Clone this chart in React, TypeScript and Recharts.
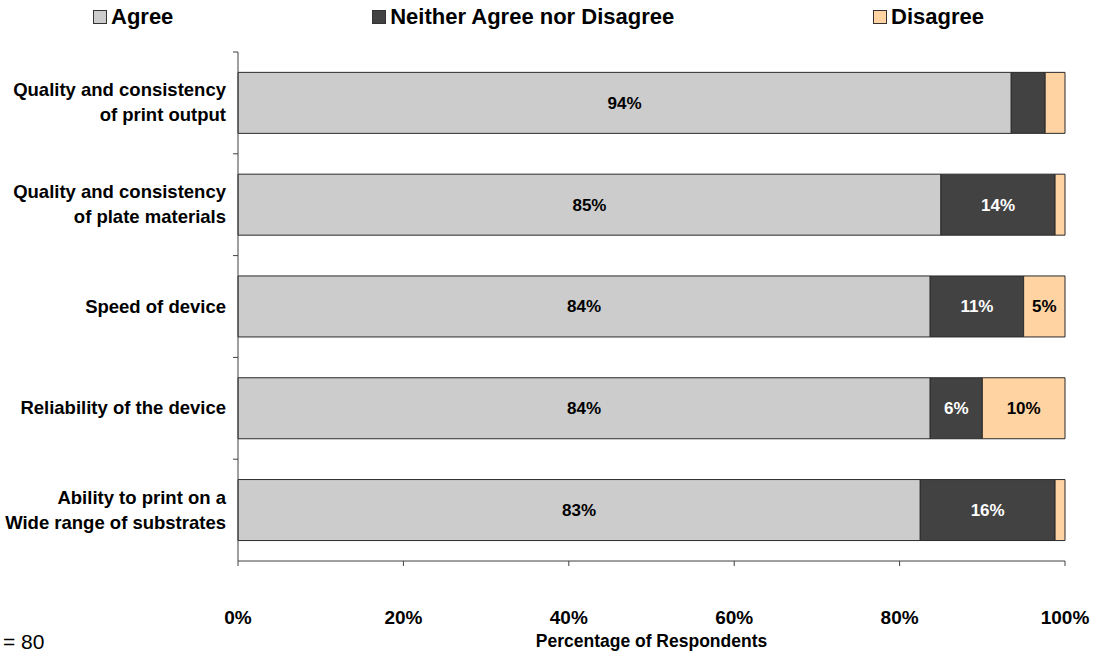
import React from 'react';
import { BarChart, Bar, XAxis, YAxis, LabelList } from 'recharts';

const categories = [
  'Quality and consistency\nof print output',
  'Quality and consistency\nof plate materials',
  'Speed of device',
  'Reliability of the device',
  'Ability to print on a\nWide range of substrates',
];
const agree = [93.5, 85.0, 83.7, 83.7, 82.5];
const neither = [4.1, 13.8, 11.3, 6.3, 16.3];
const disagree = [2.4, 1.2, 5.0, 10.0, 1.2];
const xTicks = [0, 20, 40, 60, 80, 100];

const series = [
  { key: 'agree', name: 'Agree', color: '#CCCCCC', text: '#000000' },
  { key: 'neither', name: 'Neither Agree nor Disagree', color: '#424242', text: '#FFFFFF' },
  { key: 'disagree', name: 'Disagree', color: '#FFD3A2', text: '#000000' },
];

const data = categories.map((name, i) => ({
  name,
  agree: agree[i],
  neither: neither[i],
  disagree: disagree[i],
}));

const FONT = '"Liberation Sans", Arial, Helvetica, sans-serif';
const WIDTH = 1099;
const HEIGHT = 654;
const TOP = 52;
const XAXIS_H = 93;
const YAXIS_W = 238;
const BAND = (HEIGHT - TOP - XAXIS_H) / categories.length;

function CategoryTick(props: any) {
  const { x, y, payload } = props;
  const lines = String(payload.value).split('\n');
  const lh = 25;
  const axisX = x + 12;
  return (
    <g>
      <line x1={axisX - 5} x2={axisX} y1={y - BAND / 2} y2={y - BAND / 2} stroke="#404040" />
      <text
        x={x}
        y={y - ((lines.length - 1) * lh) / 2 - 1}
        textAnchor="end"
        dominantBaseline="central"
        fontFamily={FONT}
        fontWeight="bold"
        fontSize={18.5}
        fill="#000"
      >
        {lines.map((l, i) => (
          <tspan key={i} x={x} dy={i === 0 ? 0 : lh}>
            {l}
          </tspan>
        ))}
      </text>
    </g>
  );
}

const fmtLabel = (v: any) => (Number(v) >= 4.5 ? `${Math.round(Number(v))}%` : '');

export default function App() {
  return (
    <div style={{ position: 'absolute', left: 0, top: 0, width: WIDTH, height: HEIGHT, background: '#fff' }}>
      <div
        style={{
          position: 'absolute',
          top: 4,
          left: 93,
          width: 891,
          display: 'flex',
          justifyContent: 'space-between',
          fontFamily: FONT,
          fontWeight: 'bold',
          fontSize: 22,
        }}
      >
        {series.map((s) => (
          <div key={s.key} style={{ display: 'flex', alignItems: 'center' }}>
            <span
              style={{
                display: 'inline-block',
                width: 12,
                height: 12,
                background: s.color,
                border: '1px solid #333',
                marginRight: 4,
              }}
            />
            <span>{s.name}</span>
          </div>
        ))}
      </div>
      <BarChart
        width={WIDTH}
        height={HEIGHT}
        data={data}
        layout="vertical"
        margin={{ top: TOP, right: 34, bottom: 0, left: 0 }}
        barCategoryGap="20%"
      >
        <XAxis
          type="number"
          domain={[0, 100]}
          ticks={xTicks}
          tickFormatter={(v) => `${v}%`}
          height={XAXIS_H}
          stroke="#404040"
          tickSize={5}
          tickMargin={45}
          tick={{ fill: '#000', fontFamily: FONT, fontWeight: 'bold', fontSize: 19 }}
          label={{
            value: 'Percentage of Respondents',
            position: 'insideBottom',
            offset: 7,
            fill: '#000',
            fontFamily: FONT,
            fontWeight: 'bold',
            fontSize: 17.5,
          }}
        />
        <YAxis
          type="category"
          dataKey="name"
          width={YAXIS_W}
          stroke="#404040"
          tickLine={false}
          tickSize={0}
          tickMargin={12}
          tick={<CategoryTick />}
          interval={0}
        />
        {series.map((s) => (
          <Bar
            key={s.key}
            dataKey={s.key}
            name={s.name}
            stackId="a"
            fill={s.color}
            stroke="#2a2a2a"
            strokeWidth={1}
            isAnimationActive={false}
          >
            <LabelList
              dataKey={s.key}
              position="center"
              formatter={fmtLabel}
              fill={s.text}
              fontFamily={FONT}
              fontWeight="bold"
              fontSize={17}
            />
          </Bar>
        ))}
        <text x={3} y={641} dominantBaseline="central" fontFamily={FONT} fontSize={21} fill="#000">
          = 80
        </text>
      </BarChart>
    </div>
  );
}
